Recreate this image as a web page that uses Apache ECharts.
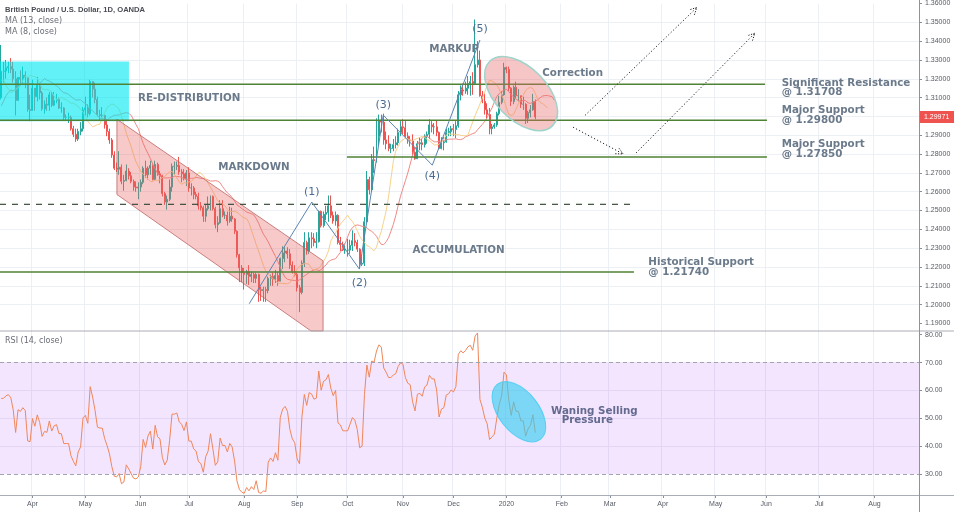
<!DOCTYPE html>
<html><head><meta charset="utf-8">
<script src="https://cdn.jsdelivr.net/npm/echarts@6/dist/echarts.min.js"></script>
<style>html,body{margin:0;padding:0;background:#fff}#c{width:954px;height:512px}</style>
</head><body><div id="c"></div>
<script>
// ---------------- DATA ----------------
const startDate = [2019, 2, 13];     // first bar: 13 Mar 2019 (weekday bars)
const barCount = 382;                // visible bar slots incl. future space up to late Aug 2020
const warmupCloses = [1.3075,1.3040,1.2945,1.2930,1.2950,1.2940,1.2885,1.2945,1.2840,1.2800,1.2905,1.2920,1.3045,1.3055,
  1.3040,1.3050,1.3085,1.3245,1.3295,1.3260,1.3190,1.3165,1.3170,1.3130,1.3090,1.3010,1.3155,1.3100];
const firstOpen = 1.3100;
const closes = [
1.3240,1.3242,1.3258,1.3265,1.3252,1.3200,1.3085,1.3207,1.3198,1.3219,1.3205,1.3037,1.3032,
1.3150,1.3105,1.3168,1.3125,1.3040,1.3065,1.3060,1.3115,1.3060,1.3085,1.3090,1.3045,1.3045,1.2995,1.2995,1.2995,1.2935,1.2905,1.2880,1.2920,1.2935,1.3035,
1.3045,1.3015,1.3185,1.3145,1.3090,1.3010,1.3005,1.3005,1.2955,1.2920,1.2875,1.2795,1.2725,1.2720,1.2730,1.2655,1.2660,1.2710,1.2685,1.2655,1.2625,1.2620,1.2625,
1.2650,1.2725,1.2690,1.2725,1.2740,1.2665,1.2745,1.2695,1.2685,1.2590,1.2545,1.2560,1.2625,1.2735,1.2735,1.2740,1.2705,1.2695,1.2670,1.2700,
1.2620,1.2620,1.2585,1.2575,1.2525,1.2515,1.2470,1.2510,1.2525,1.2575,1.2510,1.2425,1.2435,1.2510,1.2475,1.2475,1.2445,1.2470,1.2455,1.2390,1.2265,1.2195,1.2170,
1.2160,1.2175,1.2150,1.2160,1.2140,1.2160,1.2080,1.2075,1.2080,1.2075,1.2140,1.2150,1.2135,1.2155,1.2125,1.2245,1.2275,1.2285,1.2270,1.2210,1.2175,1.2160,
1.2090,1.2065,1.2220,1.2330,1.2285,1.2355,1.2350,1.2330,1.2335,1.2495,1.2420,1.2480,1.2490,1.2525,1.2475,1.2445,1.2475,1.2330,1.2320,1.2290,1.2290,
1.2290,1.2315,1.2340,1.2330,1.2295,1.2215,1.2220,1.2440,1.2665,1.2610,1.2770,1.2765,1.2895,1.2980,1.2970,1.2875,1.2855,1.2830,1.2830,1.2850,1.2860,1.2915,1.2945,
1.2940,1.2895,1.2875,1.2870,1.2810,1.2775,1.2855,1.2860,1.2850,1.2895,1.2905,1.2955,1.2945,1.2945,1.2915,1.2830,1.2860,1.2865,1.2915,1.2920,1.2935,
1.2930,1.2950,1.3115,1.3140,1.3135,1.3150,1.3175,1.3185,1.3175,1.3275,1.3300,1.3110,1.3080,1.3035,1.3010,1.2935,1.2945,1.2955,1.3015,1.3075,1.3115,1.3260,
1.3250,1.3150,1.3080,1.3155,1.3110,1.3110,1.3065,1.3065,1.2990,1.3020,1.3035,1.3080,1.29971];
const highs = [
1.3380,1.3290,1.3300,1.3290,1.3310,1.3290,1.3240,1.3210,1.3245,1.3265,1.3240,1.3210,1.3115,
1.3195,1.3140,1.3210,1.3175,1.3135,1.3085,1.3100,1.3130,1.3130,1.3130,1.3120,1.3100,1.3075,1.3050,1.3010,1.3020,1.3005,1.2950,1.2935,1.2935,1.2970,1.3050,
1.3105,1.3065,1.3195,1.3175,1.3180,1.3105,1.3035,1.3050,1.3010,1.2985,1.2935,1.2885,1.2815,1.2755,1.2815,1.2745,1.2690,1.2745,1.2725,1.2705,1.2665,1.2655,1.2650,
1.2665,1.2735,1.2765,1.2735,1.2765,1.2745,1.2765,1.2755,1.2710,1.2690,1.2600,1.2580,1.2665,1.2750,1.2760,1.2760,1.2785,1.2720,1.2720,1.2715,
1.2730,1.2645,1.2630,1.2600,1.2595,1.2545,1.2525,1.2530,1.2575,1.2580,1.2580,1.2520,1.2470,1.2555,1.2555,1.2495,1.2495,1.2520,1.2515,1.2460,1.2395,1.2270,1.2210,
1.2195,1.2185,1.2210,1.2175,1.2170,1.2170,1.2165,1.2095,1.2095,1.2095,1.2150,1.2160,1.2170,1.2185,1.2175,1.2250,1.2310,1.2305,1.2305,1.2295,1.2230,1.2210,
1.2170,1.2105,1.2235,1.2385,1.2340,1.2385,1.2385,1.2380,1.2385,1.2500,1.2500,1.2495,1.2525,1.2580,1.2580,1.2495,1.2495,1.2480,1.2360,1.2335,1.2325,
1.2350,1.2345,1.2395,1.2380,1.2345,1.2300,1.2255,1.2465,1.2710,1.2680,1.2800,1.2840,1.2990,1.3010,1.3010,1.3015,1.2920,1.2900,1.2855,1.2880,1.2895,1.2935,1.2975,
1.2985,1.2975,1.2915,1.2895,1.2905,1.2835,1.2870,1.2890,1.2880,1.2905,1.2920,1.2985,1.2975,1.2965,1.2980,1.2920,1.2890,1.2890,1.2935,1.2940,1.2950,
1.2960,1.2975,1.3135,1.3165,1.3175,1.3185,1.3215,1.3215,1.3235,1.3515,1.3400,1.3350,1.3135,1.3125,1.3070,1.3045,1.2960,1.2965,1.3025,1.3110,1.3135,1.3285,
1.3265,1.3265,1.3155,1.3165,1.3185,1.3145,1.3110,1.3105,1.3070,1.3030,1.3060,1.3120,1.3090];
const lows = [
1.3090,1.3180,1.3200,1.3230,1.3230,1.3180,1.3005,1.3085,1.3170,1.3170,1.3150,1.3025,1.2975,
1.3035,1.3030,1.3080,1.3090,1.3030,1.3015,1.3030,1.3030,1.3050,1.3055,1.3070,1.3040,1.3020,1.2980,1.2980,1.2965,1.2925,1.2890,1.2865,1.2870,1.2900,1.2920,
1.3005,1.2995,1.3005,1.3100,1.3070,1.3000,1.2980,1.2995,1.2935,1.2895,1.2855,1.2780,1.2715,1.2705,1.2690,1.2640,1.2605,1.2655,1.2665,1.2645,1.2605,1.2600,1.2560,
1.2600,1.2640,1.2675,1.2665,1.2690,1.2660,1.2660,1.2685,1.2645,1.2575,1.2530,1.2505,1.2550,1.2600,1.2690,1.2715,1.2690,1.2650,1.2660,1.2630,
1.2600,1.2580,1.2560,1.2560,1.2505,1.2500,1.2440,1.2440,1.2500,1.2500,1.2500,1.2405,1.2385,1.2430,1.2465,1.2455,1.2420,1.2435,1.2440,1.2375,1.2250,1.2120,1.2120,
1.2080,1.2110,1.2105,1.2120,1.2115,1.2115,1.2015,1.2020,1.2015,1.2015,1.2060,1.2100,1.2100,1.2115,1.2100,1.2130,1.2190,1.2225,1.2245,1.2190,1.2165,1.2150,
1.2070,1.1960,1.2055,1.2200,1.2265,1.2270,1.2300,1.2310,1.2300,1.2330,1.2410,1.2410,1.2450,1.2440,1.2460,1.2430,1.2420,1.2320,1.2285,1.2285,1.2270,
1.2255,1.2270,1.2285,1.2310,1.2280,1.2195,1.2205,1.2205,1.2440,1.2585,1.2600,1.2700,1.2755,1.2845,1.2915,1.2850,1.2825,1.2815,1.2805,1.2815,1.2830,1.2845,1.2895,
1.2905,1.2885,1.2855,1.2840,1.2790,1.2770,1.2775,1.2820,1.2820,1.2835,1.2855,1.2880,1.2915,1.2905,1.2895,1.2825,1.2825,1.2820,1.2860,1.2895,1.2895,
1.2895,1.2885,1.2940,1.3085,1.3110,1.3120,1.3115,1.3110,1.3115,1.3170,1.3260,1.3105,1.3070,1.3010,1.2985,1.2905,1.2905,1.2935,1.2945,1.3005,1.3065,1.3110,
1.3230,1.3135,1.3055,1.3065,1.3095,1.3080,1.3045,1.3035,1.2960,1.2965,1.2995,1.3030,1.2985];
const priceTicks = [1.19,1.20,1.21,1.22,1.23,1.24,1.25,1.26,1.27,1.28,1.29,1.30,1.31,1.32,1.33,1.34,1.35,1.36];
const rsiTicks = [30,40,50,60,70,80];
const monthNames = ['Jan','Feb','Mar','Apr','May','Jun','Jul','Aug','Sep','Oct','Nov','Dec'];
const maSlowLen = 13, maSlowShift = 8, maFastLen = 8, maFastShift = 5, rsiLen = 14;
// annotation anchors: [bar index, price]
const levels = {resistance: 1.31708, support1: 1.29800, support2: 1.27850, historical: 1.21740, midline: 1.2533};
const levelSpans = {resistance:[-0.5,317.5], support1:[-0.5,318.3], support2:[143.7,318.3], historical:[-0.5,263.0], midline:[-0.5,261.4]};
const redistBox = [[-0.5,1.3292],[53.1,1.2974]];
const channel = [[48.1,1.29848],[133.8,1.22330],[133.8,1.1860],[128.8,1.1860],[48.1,1.25852]];
const wavePts = [[103.1,1.2005],[129.1,1.2545],[148.9,1.2189],[158.8,1.3007],[179.2,1.2741],[199.0,1.3406]];
const waveLabels = ['(1)','(2)','(3)','(4)','(5)'];
const arrows = [[[242.7,1.30059],[289.2,1.3579]],[[263.9,1.28061],[313.3,1.34423]],[[237.7,1.29428],[258.5,1.28008]]];

// ---------------- BUILD ----------------
const categories = [];
{ const d = new Date(Date.UTC(startDate[0], startDate[1], startDate[2]));
  while (categories.length < barCount) { const w = d.getUTCDay();
    if (w !== 0 && w !== 6) categories.push(d.toISOString().slice(0,10));
    d.setUTCDate(d.getUTCDate()+1); } }
const monthStart = categories.map((c,i) => i > 0 && c.slice(5,7) !== categories[i-1].slice(5,7));
const candles = closes.map((c,i) => [i === 0 ? firstOpen : closes[i-1], c, lows[i], highs[i]]);
const all = warmupCloses.concat(closes), W = warmupCloses.length;
function shiftedMA(len, shift) {
  const out = new Array(barCount).fill(null);
  for (let i = 0; i < barCount; i++) {
    const src = W + i - shift;
    if (src < len - 1 || src > all.length - 1) continue;
    let s = 0; for (let k = src - len + 1; k <= src; k++) s += all[k];
    out[i] = s / len;
  }
  return out;
}
const maSlow = shiftedMA(maSlowLen, maSlowShift);
const maFast = shiftedMA(maFastLen, maFastShift);
const rsiAll = new Array(all.length).fill(null);
{ let au = 0, ad = 0;
  for (let j = 1; j < all.length; j++) {
    const ch = all[j] - all[j-1], u = Math.max(ch,0), dn = Math.max(-ch,0);
    if (j <= rsiLen) { au += u / rsiLen; ad += dn / rsiLen; if (j < rsiLen) continue; }
    else { au = (au*(rsiLen-1) + u)/rsiLen; ad = (ad*(rsiLen-1) + dn)/rsiLen; }
    rsiAll[j] = ad === 0 ? 100 : 100 - 100/(1 + au/ad);
  } }
const rsi = new Array(barCount).fill(null);
closes.forEach((c,i) => rsi[i] = rsiAll[W+i]);

const chart = echarts.init(document.getElementById('c'), null, {renderer:'canvas'});
const gridLine = '#eceff4', axisTxt = '#555a63';
const xCommon = {type:'category', data: categories, boundaryGap: true,
  axisLine:{show:false},
  splitLine:{show:true, interval:(i)=>monthStart[i], lineStyle:{color:gridLine, width:1}}};
chart.setOption({
  animation:false, backgroundColor:'#ffffff',
  grid:[{left:0, right:35, top:0, height:342.3},
        {left:0, right:35, top:306.8, height:195.4}],
  xAxis:[Object.assign({gridIndex:0, axisTick:{show:false}, axisLabel:{show:false}}, xCommon),
         Object.assign({gridIndex:1, position:'bottom', offset:-7.2,
           axisTick:{show:true, interval:(i)=>monthStart[i], alignWithLabel:true, length:3, lineStyle:{color:'#8a8e96'}},
           axisLabel:{show:true, interval:(i)=>monthStart[i], margin:6, fontSize:7, fontFamily:'Liberation Sans', color:axisTxt,
             formatter:(v)=>{const m=+v.slice(5,7); return m===1 ? v.slice(0,4) : monthNames[m-1];}}}, xCommon)],
  yAxis:[{gridIndex:0, type:'value', position:'right', min:1.18, max:1.36, interval:0.01, scale:true,
          axisLine:{show:false},
          axisTick:{show:true, length:3, customValues:priceTicks, lineStyle:{color:'#8a8e96'}},
          axisLabel:{customValues:priceTicks, margin:6, fontSize:7, fontFamily:'Liberation Sans', color:axisTxt,
            formatter:(v)=> v < 1.185 ? '' : v.toFixed(5)},
          splitLine:{show:true, showMinLine:false, showMaxLine:false, lineStyle:{color:gridLine}}},
         {gridIndex:1, type:'value', position:'right', min:20, max:90, interval:10,
          axisLine:{show:false},
          axisTick:{show:true, length:3, customValues:rsiTicks, lineStyle:{color:'#8a8e96'}},
          axisLabel:{customValues:rsiTicks, margin:6, fontSize:7, fontFamily:'Liberation Sans', color:axisTxt,
            formatter:(v)=> (v<25||v>85) ? '' : v.toFixed(2)},
          splitLine:{show:true, showMinLine:false, showMaxLine:false, lineStyle:{color:gridLine}}}],
  series:[
    {type:'candlestick', name:'GBPUSD', xAxisIndex:0, yAxisIndex:0, data:candles, barWidth:'62%', z:3,
     itemStyle:{color:'#26a69a', color0:'#ef5350', borderColor:'#26a69a', borderColor0:'#ef5350', borderWidth:1}},
    {type:'line', name:'MA (13, close)', xAxisIndex:0, yAxisIndex:0, data:maSlow, showSymbol:false, z:4,
     lineStyle:{color:'#f08a86', width:1}},
    {type:'line', name:'MA (8, close)', xAxisIndex:0, yAxisIndex:0, data:maFast, showSymbol:false, z:4,
     lineStyle:{color:'#f7d28c', width:1}},
    {type:'line', name:'RSI (14, close)', xAxisIndex:1, yAxisIndex:1, data:rsi, showSymbol:false, z:4,
     lineStyle:{color:'#f0875a', width:1},
     markArea:{silent:true, itemStyle:{color:'rgba(149,0,255,0.10)'}, data:[[{yAxis:30},{yAxis:70}]]},
     markLine:{silent:true, symbol:'none', label:{show:false},
       lineStyle:{color:'#a3a3b3', type:[4,3], width:1}, data:[{yAxis:70},{yAxis:30}]}}
  ]
});

// ---------------- ANNOTATIONS (data -> pixel) ----------------
const x0 = chart.convertToPixel({xAxisIndex:0}, 0), x1 = chart.convertToPixel({xAxisIndex:0}, 1);
const X = (i) => x0 + (x1 - x0) * i;
const Y = (p) => chart.convertToPixel({yAxisIndex:0}, p);
const YR = (v) => chart.convertToPixel({yAxisIndex:1}, v);
const P = (pt) => [X(pt[0]), Y(pt[1])];
const els = [];
const Z = 20;
const textEl = (t, x, y, font, fill, align, z) => ({type:'text', z:z||Z+5, silent:true,
  style:{text:t, x:x, y:y, font:font, fill:fill, align:align||'left', textAlign:align||'left', verticalAlign:'middle', textVerticalAlign:'middle'}});
const lbl = '#6b7a8b', lblFont = 'bold 10.3px "DejaVu Sans"';

// cyan re-distribution box
{ const a = P(redistBox[0]), b = P(redistBox[1]);
  els.push({type:'rect', z:Z, silent:true, shape:{x:a[0], y:a[1], width:b[0]-a[0], height:b[1]-a[1]},
    style:{fill:'rgba(0,232,240,0.62)'}}); }
// markdown channel
els.push({type:'polygon', z:Z, silent:true, shape:{points:channel.map(P)},
  style:{fill:'rgba(232,105,105,0.36)', stroke:'rgba(185,95,95,0.75)', lineWidth:1}});
// horizontal levels
['resistance','support1','support2','historical'].forEach(k => {
  const y = Y(levels[k]), s = levelSpans[k];
  els.push({type:'line', z:Z+1, silent:true, shape:{x1:X(s[0]), y1:y, x2:X(s[1]), y2:y}, style:{stroke:'#4f8235', lineWidth:1.5}});
});
{ const y = Y(levels.midline), s = levelSpans.midline;
  els.push({type:'line', z:Z+1, silent:true, shape:{x1:X(s[0]), y1:y, x2:X(s[1]), y2:y}, style:{stroke:'#3b4d3b', lineWidth:1.2, lineDash:[6,6]}}); }
// correction ellipse
{ const c = P([216.1, 1.31215]);
  els.push({type:'ellipse', z:Z+2, silent:true, x:c[0], y:c[1], rotation:-0.8, shape:{cx:0, cy:0, rx:45, ry:26},
    style:{fill:'rgba(232,105,105,0.38)', stroke:'#9ed4cb', lineWidth:1.5}}); }
// RSI ellipse
{ const c = [X(215.2), YR(52.4)];
  els.push({type:'ellipse', z:Z+2, silent:true, x:c[0], y:c[1], rotation:-0.9, shape:{cx:0, cy:0, rx:35, ry:20},
    style:{fill:'rgba(50,205,240,0.62)', stroke:'rgba(70,205,240,0.85)', lineWidth:1}}); }
// Elliott wave path
els.push({type:'polyline', z:Z+2, silent:true, shape:{points:wavePts.map(P)}, style:{stroke:'#5b84b1', lineWidth:1, fill:null}});
const waveOff = [-10, 14, -10, 11, -11];
waveLabels.forEach((t,k) => { const p = P(wavePts[k+1]);
  els.push(textEl(t, p[0], p[1] + waveOff[k], '11px "DejaVu Sans"', '#4a6c91', 'center')); });
// dotted arrows
arrows.forEach(a => { const s = P(a[0]), e = P(a[1]);
  const dx = e[0]-s[0], dy = e[1]-s[1], L = Math.hypot(dx,dy), ux = dx/L, uy = dy/L, nx = -uy, ny = ux;
  els.push({type:'line', z:Z+2, silent:true, shape:{x1:s[0], y1:s[1], x2:e[0], y2:e[1]}, style:{stroke:'#222', lineWidth:1, lineDash:[1.2,2.2]}});
  els.push({type:'polyline', z:Z+2, silent:true, shape:{points:[[e[0]-ux*7+nx*3.5, e[1]-uy*7+ny*3.5], e, [e[0]-ux*7-nx*3.5, e[1]-uy*7-ny*3.5]]},
    style:{stroke:'#222', lineWidth:1, fill:null, lineDash:[1.2,1.5]}});
});
// phase labels
els.push(textEl('RE-DISTRIBUTION', X(56.9), Y(1.30979), lblFont, lbl));
els.push(textEl('MARKDOWN', X(90.2), Y(1.27309), lblFont, lbl));
els.push(textEl('ACCUMULATION', X(171.0), Y(1.22908), lblFont, lbl));
els.push(textEl('MARKUP', X(177.9), Y(1.33592), lblFont, lbl));
els.push(textEl('Correction', X(224.9), Y(1.32304), lblFont, lbl));
els.push(textEl('Significant Resistance', X(324.4), Y(1.31767), lblFont, lbl));
els.push(textEl('@ ' + levels.resistance.toFixed(5), X(324.4), Y(1.31268), lblFont, lbl));
els.push(textEl('Major Support', X(324.4), Y(1.30306), lblFont, lbl));
els.push(textEl('@ ' + levels.support1.toFixed(5), X(324.4), Y(1.29796), lblFont, lbl));
els.push(textEl('Major Support', X(324.4), Y(1.28497), lblFont, lbl));
els.push(textEl('@ ' + levels.support2.toFixed(5), X(324.4), Y(1.28008), lblFont, lbl));
els.push(textEl('Historical Support', X(269.0), Y(1.22240), lblFont, lbl));
els.push(textEl('@ ' + levels.historical.toFixed(5), X(269.0), Y(1.21714), lblFont, lbl));
els.push(textEl('Waning Selling', X(228.5), YR(52.67), 'bold 10.3px "DejaVu Sans"', '#646b8f'));
els.push(textEl('Pressure', X(233.0), YR(49.16), 'bold 10.3px "DejaVu Sans"', '#646b8f'));
// pane chrome
const axX = X(barCount - 0.5);
const paneSep = Y(1.1860);
els.push({type:'line', z:Z+6, silent:true, shape:{x1:0, y1:paneSep, x2:954, y2:paneSep}, style:{stroke:'#a9adb5', lineWidth:1}});
els.push({type:'line', z:Z+6, silent:true, shape:{x1:0, y1:495.5, x2:954, y2:495.5}, style:{stroke:'#a9adb5', lineWidth:1}});
els.push({type:'line', z:Z+6, silent:true, shape:{x1:axX+0.5, y1:0, x2:axX+0.5, y2:512}, style:{stroke:'#8e929a', lineWidth:1}});
// last price tag
{ const lp = closes[closes.length-1], y = Y(lp);
  els.push({type:'rect', z:Z+7, silent:true, shape:{x:axX+1, y:y-6, width:954-axX-1, height:12}, style:{fill:'#ef5350'}});
  els.push(textEl(lp.toFixed(5), axX+5, y, '7px "Liberation Sans"', '#ffffff', 'left', Z+9)); }
// legends
els.push(textEl('British Pound / U.S. Dollar, 1D, OANDA', 5, 10, 'bold 7.6px "Liberation Sans"', '#4a4d55'));
els.push(textEl('MA (13, close)', 5, 21, '8px "DejaVu Sans"', '#6a6d75'));
els.push(textEl('MA (8, close)', 5, 32, '8px "DejaVu Sans"', '#6a6d75'));
els.push(textEl('RSI (14, close)', 5, paneSep + 10, '8px "DejaVu Sans"', '#6a6d75'));
chart.setOption({graphic:{elements:els}});
</script></body></html>
